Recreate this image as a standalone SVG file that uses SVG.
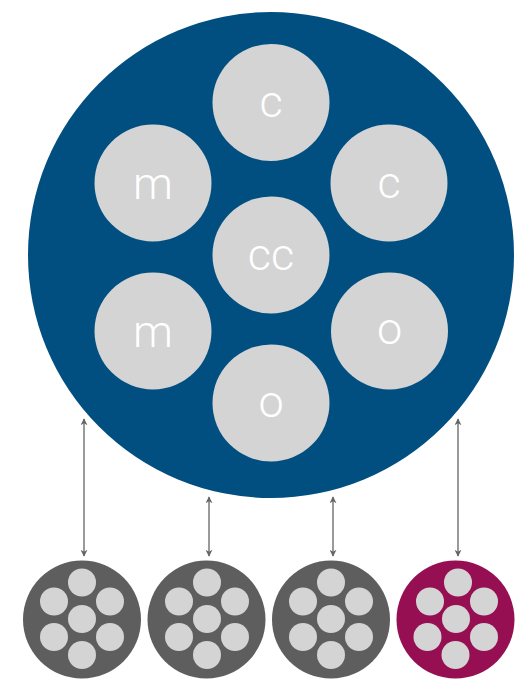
<svg xmlns="http://www.w3.org/2000/svg" width="528" height="684" viewBox="0 0 528 684">
<defs>
<style>
.big{fill:#004f80}
.in{fill:#d4d4d4}
.dark{fill:#5e5e5e}
.mag{fill:#960f52}
.lbl{fill:#ffffff;font-family:Roboto,"Open Sans",sans-serif;font-weight:300;font-size:45px;text-anchor:middle}
.conn{stroke:#808080;stroke-width:1.6;fill:none}
</style>
<marker id="ah" viewBox="0 0 10 10" refX="9" refY="5" markerWidth="7" markerHeight="7" markerUnits="userSpaceOnUse" orient="auto-start-reverse">
<path d="M0,0 L10,5 L0,10 L3,5 Z" fill="#666666"/>
</marker>
</defs>
<rect width="528" height="684" fill="#ffffff"/>
<g id="main">
<circle class="big" cx="271" cy="255" r="243"/>
</g>
<g id="n-c1"><circle class="in" cx="271" cy="102.5" r="58.5"/><text class="lbl" x="271" y="117">c</text></g>
<g id="n-m1"><circle class="in" cx="153" cy="183" r="58.5"/><text class="lbl" x="153" y="199">m</text></g>
<g id="n-c2"><circle class="in" cx="389" cy="183" r="58.5"/><text class="lbl" x="389" y="198">c</text></g>
<g id="n-cc"><circle class="in" cx="271" cy="255" r="58.5"/><text class="lbl" x="271" y="270">cc</text></g>
<g id="n-m2"><circle class="in" cx="153" cy="331" r="58.5"/><text class="lbl" x="153" y="347">m</text></g>
<g id="n-o1"><circle class="in" cx="389.5" cy="331" r="58.5"/><text class="lbl" x="389.5" y="344">o</text></g>
<g id="n-o2"><circle class="in" cx="271" cy="403" r="58.5"/><text class="lbl" x="271" y="417">o</text></g>
<g id="s1">
<circle class="dark" cx="82" cy="619.5" r="59"/>
<circle class="in" cx="82" cy="582.5" r="14"/>
<circle class="in" cx="54" cy="601.5" r="14"/>
<circle class="in" cx="110" cy="601.5" r="14"/>
<circle class="in" cx="82" cy="619" r="14"/>
<circle class="in" cx="54" cy="637" r="14"/>
<circle class="in" cx="110" cy="637" r="14"/>
<circle class="in" cx="82" cy="655" r="14"/>
</g>
<g id="s2">
<circle class="dark" cx="206.5" cy="619.5" r="59"/>
<circle class="in" cx="207" cy="582.5" r="14"/>
<circle class="in" cx="179" cy="601.5" r="14"/>
<circle class="in" cx="235" cy="601.5" r="14"/>
<circle class="in" cx="207" cy="619" r="14"/>
<circle class="in" cx="179" cy="637" r="14"/>
<circle class="in" cx="235" cy="637" r="14"/>
<circle class="in" cx="207" cy="655" r="14"/>
</g>
<g id="s3">
<circle class="dark" cx="331" cy="619.5" r="59"/>
<circle class="in" cx="331" cy="582.5" r="14"/>
<circle class="in" cx="303" cy="601.5" r="14"/>
<circle class="in" cx="359" cy="601.5" r="14"/>
<circle class="in" cx="331" cy="619" r="14"/>
<circle class="in" cx="303" cy="637" r="14"/>
<circle class="in" cx="359" cy="637" r="14"/>
<circle class="in" cx="331" cy="655" r="14"/>
</g>
<g id="s4">
<circle class="mag" cx="455.5" cy="619.5" r="59"/>
<circle class="in" cx="458" cy="582.5" r="14"/>
<circle class="in" cx="430" cy="601.5" r="14"/>
<circle class="in" cx="484" cy="601.5" r="14"/>
<circle class="in" cx="456" cy="619" r="14"/>
<circle class="in" cx="427.5" cy="637" r="14"/>
<circle class="in" cx="484" cy="637" r="14"/>
<circle class="in" cx="455.5" cy="655" r="14"/>
</g>
<g id="connectors">
<line class="conn" x1="84" y1="419" x2="84" y2="556" marker-start="url(#ah)" marker-end="url(#ah)"/>
<line class="conn" x1="209" y1="497" x2="209" y2="556" marker-start="url(#ah)" marker-end="url(#ah)"/>
<line class="conn" x1="333" y1="497" x2="333" y2="556" marker-start="url(#ah)" marker-end="url(#ah)"/>
<line class="conn" x1="458" y1="419" x2="458" y2="556" marker-start="url(#ah)" marker-end="url(#ah)"/>
</g>
</svg>
